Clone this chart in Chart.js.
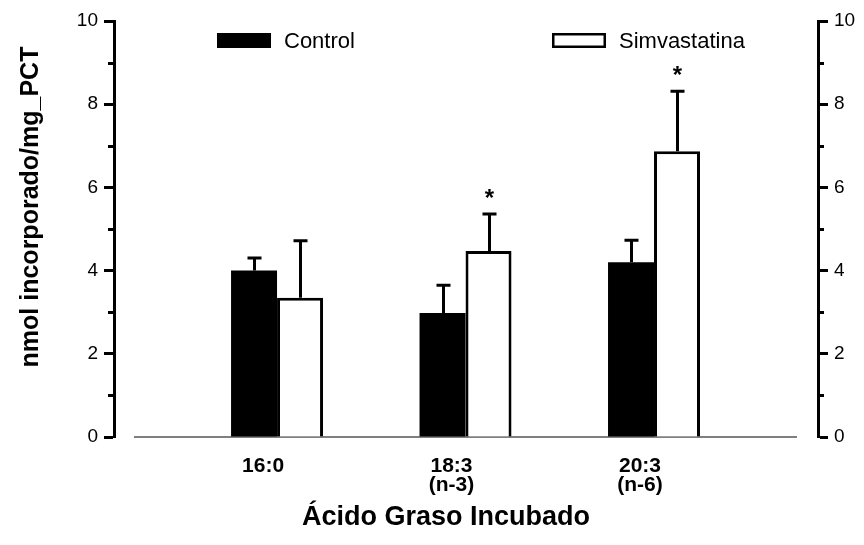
<!DOCTYPE html>
<html>
<head>
<meta charset="utf-8">
<script src="https://cdn.jsdelivr.net/npm/chart.js@4/dist/chart.umd.min.js"></script>
<style>
  html, body { margin: 0; padding: 0; background: #fff; }
  canvas { display: block; }
</style>
</head>
<body>
<canvas id="c" width="864" height="545"></canvas>
<script>
// ---- data ----
const categories = [['16:0'], ['18:3', '(n-3)'], ['20:3', '(n-6)']];
const seriesNames = ['Control', 'Simvastatina'];
const controlValues = [4.0, 2.98, 4.2];
const controlErrors = [0.30, 0.67, 0.53];
const simvValues = [3.35, 4.47, 6.87];
const simvErrors = [1.37, 0.89, 1.44];
const simvSignificant = [false, true, true];
const yAxisTitle = 'nmol incorporado/mg_PCT';
const xAxisTitle = 'Ácido Graso Incubado';
const yMin = 0, yMax = 10, yStep = 1;

const FONT = "'Liberation Sans', Arial, Helvetica, sans-serif";
const errorsByDataset = [controlErrors, simvErrors];
const sigByDataset = [null, simvSignificant];

const toPoints = vals => vals.map((v, i) => ({ x: i + 1, y: v }));

const yTickCommon = {
  min: yMin, max: yMax,
  border: { display: true, color: '#000', width: 3 },
  grid: {
    display: true, drawOnChartArea: false, drawTicks: true,
    tickLength: 10, tickWidth: 3,
    tickColor: ctx => (ctx.tick && ctx.tick.value % 2 === 0) ? '#000' : 'rgba(0,0,0,0)'
  },
  ticks: {
    stepSize: yStep, color: '#000', padding: 6,
    font: { family: FONT, size: 19 },
    callback: v => (v % 2 === 0 ? String(v) : '')
  }
};

const extrasPlugin = {
  id: 'extras',
  beforeDatasetsDraw(chart) {
    const { ctx, chartArea } = chart;
    const y0 = chart.scales.y.getPixelForValue(0);
    ctx.save();
    ctx.strokeStyle = '#555';
    ctx.lineWidth = 1.5;
    ctx.beginPath();
    ctx.moveTo(chartArea.left + 20, y0);
    ctx.lineTo(chartArea.right - 21, y0);
    ctx.stroke();
    ctx.restore();
  },
  afterDatasetsDraw(chart) {
    const { ctx } = chart;
    const ys = chart.scales.y;
    ctx.save();
    ctx.strokeStyle = '#000';
    ctx.fillStyle = '#000';
    ctx.lineWidth = 3;
    chart.data.datasets.forEach((ds, di) => {
      const meta = chart.getDatasetMeta(di);
      const errs = errorsByDataset[di];
      meta.data.forEach((bar, i) => {
        const v = ds.data[i].y;
        const top = ys.getPixelForValue(v + errs[i]);
        const x = Math.round(bar.x) + 0.5;
        ctx.beginPath();
        ctx.moveTo(x, bar.y);
        ctx.lineTo(x, top);
        ctx.moveTo(x - 7, top);
        ctx.lineTo(x + 7, top);
        ctx.stroke();
        const sig = sigByDataset[di];
        if (sig && sig[i]) {
          ctx.font = 'bold 24px ' + FONT;
          ctx.textAlign = 'center';
          ctx.textBaseline = 'alphabetic';
          ctx.fillText('*', x, top - 22 + 14);
        }
      });
    });
    ctx.restore();
  },
  afterDraw(chart) {
    const { ctx, chartArea } = chart;
    ctx.save();
    // minor ticks on both y axes
    const ys = chart.scales.y;
    ctx.strokeStyle = '#000';
    ctx.lineWidth = 3;
    for (let v = yMin + 1; v < yMax; v += 2) {
      const py = Math.round(ys.getPixelForValue(v)) + 0.5;
      ctx.beginPath();
      ctx.moveTo(chartArea.left - 6, py);
      ctx.lineTo(chartArea.left, py);
      ctx.moveTo(chartArea.right, py);
      ctx.lineTo(chartArea.right + 6, py);
      ctx.stroke();
    }
    // axis titles
    ctx.fillStyle = '#000';
    ctx.font = 'bold 25px ' + FONT;
    ctx.textAlign = 'center';
    ctx.textBaseline = 'alphabetic';
    ctx.save();
    ctx.translate(38, 207);
    ctx.rotate(-Math.PI / 2);
    ctx.fillText(yAxisTitle, 0, 0);
    ctx.restore();
    ctx.font = 'bold 27px ' + FONT;
    ctx.fillText(xAxisTitle, 446, 525);
    // legend
    const legendPos = [217, 552];
    ctx.font = '22px ' + FONT;
    ctx.textAlign = 'left';
    ctx.textBaseline = 'middle';
    chart.data.datasets.forEach((ds, di) => {
      const bx = legendPos[di], by = 33, bw = 54, bh = 15;
      if (ds.backgroundColor === '#000000') {
        ctx.fillStyle = '#000';
        ctx.fillRect(bx, by, bw, bh);
      } else {
        ctx.fillStyle = '#fff';
        ctx.fillRect(bx, by, bw, bh);
        ctx.lineWidth = 2.5;
        ctx.strokeStyle = '#000';
        ctx.strokeRect(bx + 1.25, by + 1.25, bw - 2.5, bh - 2.5);
      }
      ctx.fillStyle = '#000';
      ctx.fillText(ds.label, bx + bw + 13, by + bh / 2 + 1);
    });
    ctx.restore();
  }
};

new Chart(document.getElementById('c'), {
  type: 'bar',
  data: {
    datasets: [
      {
        label: seriesNames[0],
        data: toPoints(controlValues),
        backgroundColor: '#000000',
        borderColor: '#000000',
        borderWidth: 0,
        categoryPercentage: 0.488,
        barPercentage: 1.0
      },
      {
        label: seriesNames[1],
        data: toPoints(simvValues),
        backgroundColor: '#ffffff',
        borderColor: '#000000',
        borderWidth: 3,
        categoryPercentage: 0.488,
        barPercentage: 1.0
      }
    ]
  },
  options: {
    responsive: false,
    animation: false,
    devicePixelRatio: 1,
    layout: { padding: { top: 21, left: 0, right: 0, bottom: 0 } },
    plugins: { legend: { display: false }, tooltip: { enabled: false } },
    scales: {
      x: {
        type: 'linear',
        offset: false,
        min: 0.135, max: 3.87,
        border: { display: false },
        grid: { display: false, drawTicks: false, offset: false },
        afterBuildTicks: s => { s.ticks = categories.map((_, i) => ({ value: i + 1 })); },
        afterFit: s => { s.height = 108; },
        ticks: {
          autoSkip: false, maxRotation: 0, minRotation: 0,
          padding: 20, labelOffset: -14, color: '#000',
          font: { family: FONT, size: 21, weight: 'bold', lineHeight: 0.9 },
          callback: v => categories[Math.round(v) - 1] || ''
        }
      },
      y: Object.assign({ position: 'left', afterFit: s => { s.width = 114; } }, yTickCommon),
      y2: Object.assign({ position: 'right', display: true, afterFit: s => { s.width = 46; } }, yTickCommon)
    }
  },
  plugins: [extrasPlugin]
});
</script>
</body>
</html>
